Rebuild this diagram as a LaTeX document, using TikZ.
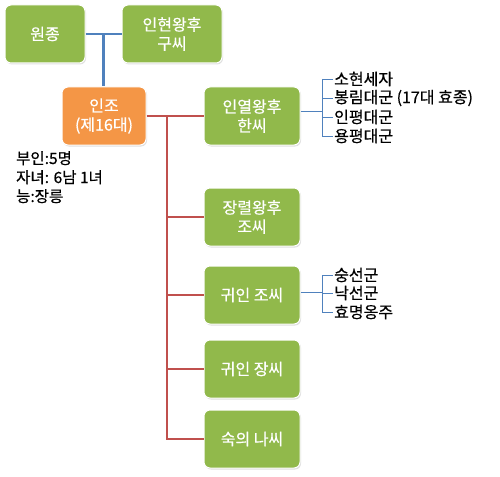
\documentclass[tikz,border=0pt]{standalone}
\usepackage{fontspec}
\setmainfont{Noto Sans CJK KR}[FakeBold=0.6]
\usetikzlibrary{positioning, calc, shadows}
\definecolor{kgreen}{RGB}{145,185,75}
\definecolor{korange}{RGB}{244,150,70}
\definecolor{kblue}{RGB}{79,129,189}
\definecolor{kred}{RGB}{192,80,77}

\begin{document}
\begin{tikzpicture}[x=1pt, y=-1pt,
  box/.style={rectangle, draw=white, line width=1pt, fill=kgreen, text=white, align=center, minimum height=58pt, rounded corners=6pt, font=\fontsize{16}{19}\selectfont, drop shadow={opacity=0.25, shadow xshift=1pt, shadow yshift=-1.5pt}},
  kingbox/.style={box, fill=korange},
  blueline/.style={draw=kblue, line width=2.5pt},
  redline/.style={draw=kred, line width=2.5pt},
  thinline/.style={draw=kblue, line width=0.8pt},
  child/.style={anchor=west, inner sep=1pt, font=\fontsize{16}{19}\selectfont}
]
\useasboundingbox (0,0) rectangle (500,476);

% parents
\node[box, minimum width=80pt] (wonjong) at (45,34) {원종};
\node[box, minimum width=100pt] (inheon) at (172,34) {인현왕후\\구씨};
\node[kingbox, minimum width=84pt] (injo) at (104,116) {인조\\(제16대)};

% wives
\node[box, minimum width=96pt] (inyeol) at (252,116) {인열왕후\\한씨};
\node[box, minimum width=96pt] (jangryeol) at (252,217) {장렬왕후\\조씨};
\node[box, minimum width=96pt] (gwijo) at (252,295) {귀인 조씨};
\node[box, minimum width=96pt] (gwijang) at (252,369) {귀인 장씨};
\node[box, minimum width=96pt] (naui) at (252,439) {숙의 나씨};

\node[anchor=north west, align=left, inner sep=0pt, font=\fontsize{15.5}{19}\selectfont] (info) at (16,151) {부인:5명\\자녀: 6남 1녀\\능:장릉};

% children
\node[child] (sohyeon) at (333,79) {소현세자};
\node[child] (bongrim) at (333,98) {봉림대군 (17대 효종)};
\node[child] (inpyeong) at (333,117) {인평대군};
\node[child] (yongpyeong) at (333,136) {용평대군};
\node[child] (sungseon) at (333,275) {숭선군};
\node[child] (nakseon) at (333,293) {낙선군};
\node[child] (hyomyeong) at (333,312) {효명옹주};

% connectors
\coordinate (mid) at ($(wonjong.east)!0.5!(inheon.west)$);
\draw[blueline] (wonjong) -- (inheon);
\draw[blueline] (mid) -- (mid |- injo.north);

\coordinate (trunk) at (167,116);
\draw[redline] (injo) -- (inyeol);
\draw[redline] (trunk) -- (trunk |- naui) -- (naui.west);
\foreach \w in {jangryeol, gwijo, gwijang}
  \draw[redline] (trunk |- \w) -- (\w.west);

\coordinate (br1) at (322,111);
\draw[thinline] (br1 -| inyeol.east) -- (br1);
\draw[thinline] (br1 |- sohyeon) -- (br1 |- yongpyeong);
\foreach \c in {sohyeon, bongrim, inpyeong, yongpyeong}
  \draw[thinline] (br1 |- \c) -- (\c.west);

\coordinate (br2) at (322,292);
\draw[thinline] (br2 -| gwijo.east) -- (br2);
\draw[thinline] (br2 |- sungseon) -- (br2 |- hyomyeong);
\foreach \c in {sungseon, nakseon, hyomyeong}
  \draw[thinline] (br2 |- \c) -- (\c.west);
\end{tikzpicture}
\end{document}
